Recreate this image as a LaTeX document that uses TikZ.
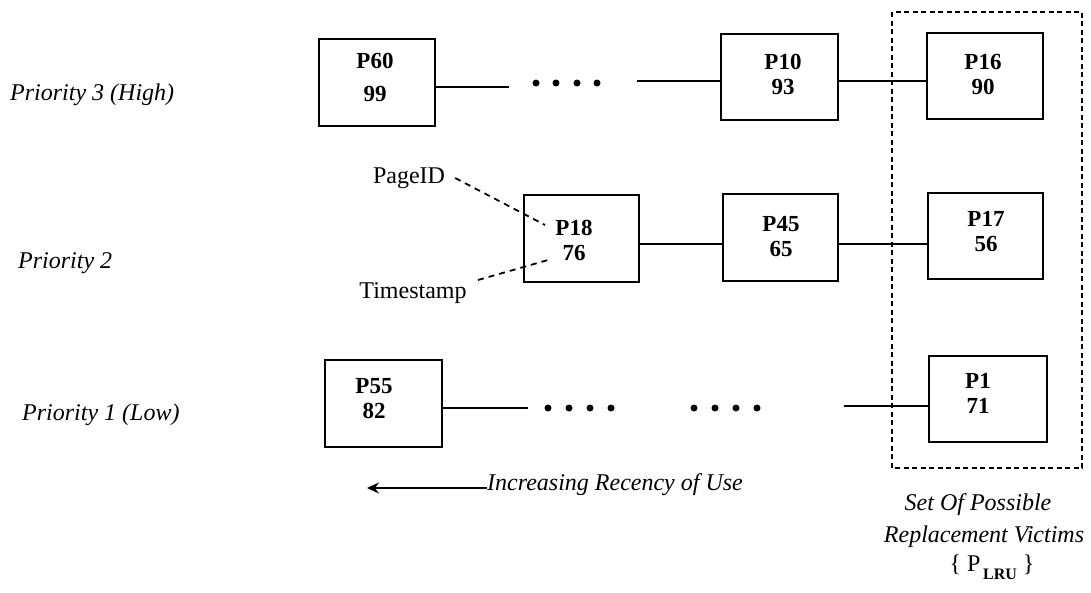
\documentclass[tikz,border=0pt]{standalone}
\usepackage{fontspec}
\setmainfont{Liberation Serif}
\usetikzlibrary{arrows.meta}
\begin{document}
\begin{tikzpicture}[x=1pt,y=-1pt,
  pg/.style={draw, line width=2pt, minimum width=116pt, minimum height=87pt, inner sep=0pt},
  pgtxt/.style={font=\fontsize{23}{25}\selectfont\bfseries, align=center, inner sep=0pt},
  lbl/.style={font=\fontsize{24}{28}\selectfont\itshape, inner sep=0pt},
  plain/.style={font=\fontsize{24}{28}\selectfont, inner sep=0pt},
  conn/.style={line width=1.8pt},
  ptr/.style={dash pattern=on 6pt off 5pt, line width=1.8pt},
  setbox/.style={dash pattern=on 5pt off 3.5pt, line width=1.7pt},
  dotr/.style={fill=black}]
\useasboundingbox (0,0) rectangle (1091,592);

% boxes
\node[pg] (P60) at (377,82.5) {};
\node[pgtxt] (P60t) at (375,77) {P60\\[8pt]99};
\node[pg, minimum width=117pt, minimum height=86pt] (P10) at (779.5,77) {};
\node[pgtxt] (P10t) at (783,74) {P10\\93};
\node[pg, minimum height=86pt] (P16) at (985,76) {};
\node[pgtxt] (P16t) at (983,74) {P16\\90};

\node[pg, minimum width=115pt] (P18) at (581.5,238.5) {};
\node[pgtxt] (P18t) at (574,240.5) {P18\\76};
\node[pg, minimum width=115pt] (P45) at (780.5,237.5) {};
\node[pgtxt] (P45t) at (781,237) {P45\\65};
\node[pg, minimum width=115pt, minimum height=86pt] (P17) at (985.5,236) {};
\node[pgtxt] (P17t) at (986,232) {P17\\56};

\node[pg, minimum width=117pt] (P55) at (383.5,403.5) {};
\node[pgtxt] (P55t) at (374,399) {P55\\82};
\node[pg, minimum width=118pt, minimum height=86pt] (P1) at (988,399) {};
\node[pgtxt] (P1t) at (978,393) {P1\\71};

% set of victims
\draw[setbox] (892,12) rectangle (1082,468);

% top row connectors
\coordinate (t1) at (509,87);
\draw[conn] (t1 -| P60.east) -- (t1);
\foreach \x in {536,556,577,597} \fill[dotr] (\x,83) circle (3.5pt);
\coordinate (t2) at (637,81);
\draw[conn] (t2) -- (t2 -| P10.west);
\coordinate (t3) at (0,81);
\draw[conn] (t3 -| P10.east) -- (t3 -| P16.west);

% middle row connectors
\coordinate (m1) at (0,244);
\draw[conn] (m1 -| P18.east) -- (m1 -| P45.west);
\draw[conn] (m1 -| P45.east) -- (m1 -| P17.west);

% bottom row connectors
\coordinate (b1) at (528,408);
\draw[conn] (b1 -| P55.east) -- (b1);
\foreach \x in {548,569,590,611,694,715,736,757} \fill[dotr] (\x,408) circle (3.5pt);
\coordinate (b2) at (844,406);
\draw[conn] (b2) -- (b2 -| P1.west);

% pointers
\node[plain] (pid) at (409,178) {PageID};
\node[plain] (ts) at (413,293) {Timestamp};
\coordinate (pidend) at (545,225);
\coordinate (tsend) at (548,260);
\draw[ptr] ([xshift=10pt]pid.east) -- (pidend);
\draw[ptr] (478,280) -- (tsend);

% priority labels
\node[lbl, anchor=west] (pr3) at (10,95) {Priority 3 (High)};
\node[lbl, anchor=west] (pr2) at (18,263) {Priority 2};
\node[lbl, anchor=west] (pr1) at (22,415) {Priority 1 (Low)};

% recency arrow
\node[lbl, anchor=west] (rec) at (487,485) {Increasing Recency of Use};
\coordinate (recend) at (367,488);
\draw[line width=2.4pt, -{Stealth[length=12pt,width=11pt,inset=4pt]}] (rec.west |- recend) -- (recend);

% set label
\node[lbl] (set1) at (978,505) {Set Of Possible};
\node[lbl] (set2) at (984,537) {Replacement Victims};
\node[plain] (set3) at (992,567) {\{ P\raisebox{-8pt}{\fontsize{16}{18}\selectfont\bfseries\,LRU} \}};
\end{tikzpicture}
\end{document}
